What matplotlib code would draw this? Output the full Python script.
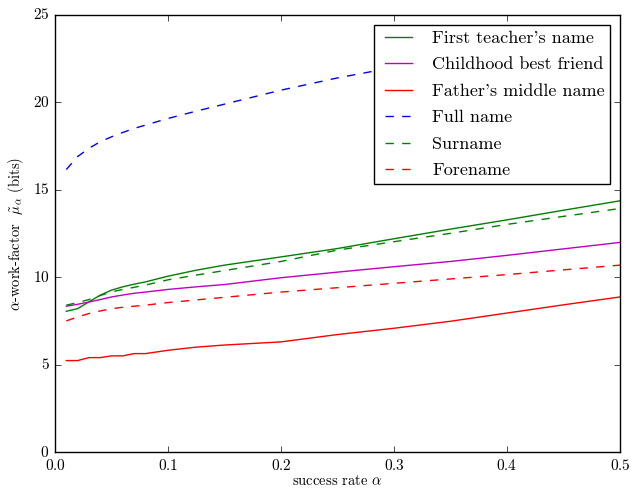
import matplotlib
matplotlib.use('Agg')
import matplotlib.pyplot as plt

plt.style.use('classic')
plt.rcParams['font.family'] = ['cmr10', 'DejaVu Serif']
plt.rcParams['mathtext.fontset'] = 'cm'
plt.rcParams['axes.formatter.use_mathtext'] = True

# success rate alpha
alpha = [0.01, 0.02, 0.03, 0.04, 0.05, 0.06, 0.07, 0.08, 0.10, 0.125,
         0.15, 0.20, 0.25, 0.30, 0.35, 0.40, 0.45, 0.50]

teacher = [8.05, 8.20, 8.59, 8.97, 9.26, 9.45, 9.60, 9.73, 10.06, 10.40,
           10.69, 11.16, 11.64, 12.20, 12.75, 13.28, 13.83, 14.37]
best_friend = [8.34, 8.45, 8.58, 8.72, 8.87, 8.98, 9.08, 9.15, 9.30, 9.45,
               9.58, 9.97, 10.29, 10.60, 10.90, 11.25, 11.62, 11.99]
father_middle = [5.23, 5.23, 5.40, 5.40, 5.50, 5.50, 5.63, 5.63, 5.82, 6.00,
                 6.12, 6.30, 6.72, 7.08, 7.48, 7.95, 8.42, 8.87]
full_name = [16.16, 16.90, 17.37, 17.75, 18.03, 18.28, 18.51, 18.70, 19.08, 19.50,
             19.90, 20.70, 21.40, 22.00, 22.60, 23.10]
surname = [8.40, 8.55, 8.72, 8.95, 9.16, 9.30, 9.42, 9.55, 9.85, 10.12,
           10.38, 10.90, 11.55, 12.03, 12.51, 13.02, 13.48, 13.93]
forename = [7.50, 7.73, 7.92, 8.07, 8.20, 8.28, 8.34, 8.40, 8.55, 8.70,
            8.85, 9.15, 9.40, 9.65, 9.90, 10.15, 10.42, 10.69]

fig = plt.figure(figsize=(6.44, 4.91), dpi=100, facecolor='white')
ax = fig.add_axes([0.0854, 0.0794, 0.8773, 0.8901])

ax.plot(alpha, teacher, 'g-', label="First teacher's name")
ax.plot(alpha, best_friend, 'm-', label='Childhood best friend')
ax.plot(alpha, father_middle, 'r-', label="Father's middle name")
ax.plot(alpha[:len(full_name)], full_name, 'b--', label='Full name')
ax.plot(alpha, surname, 'g--', label='Surname')
ax.plot(alpha, forename, 'r--', label='Forename')

ax.set_xlim(0, 0.5)
ax.set_ylim(0, 25)
ax.set_xticks([0.0, 0.1, 0.2, 0.3, 0.4, 0.5])
ax.set_yticks([0, 5, 10, 15, 20, 25])
ax.tick_params(labelsize=11)

ax.set_xlabel(r'success rate $\alpha$', fontsize=10.5, labelpad=1)
ax.set_ylabel(r'$\alpha$-work-factor  $\tilde{\mu}_\alpha$ (bits)', fontsize=10.5)

leg = ax.legend(loc='upper right', fontsize=13, handlelength=2.1,
                borderaxespad=0.55, labelspacing=0.6, borderpad=0.3)
leg.get_frame().set_linewidth(1.0)

fig.savefig('out.png', dpi=100, facecolor='white')
